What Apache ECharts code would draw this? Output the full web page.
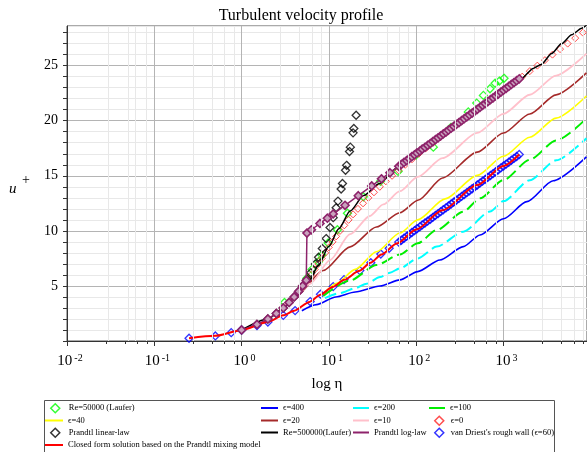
<!DOCTYPE html>
<html>
<head>
<meta charset="utf-8">
<script src="https://cdn.jsdelivr.net/npm/echarts@6/dist/echarts.min.js"></script>
<style>
  html, body { margin: 0; padding: 0; background: #fff; }
  #chart { width: 587px; height: 452px; }
</style>
</head>
<body>
<div id="chart"></div>
<script>
// ---- Data (η = wall distance, u = u+) ----

// Laufer, Re = 50000 (symbols)
const re50Eta = [3.1, 5.6, 6.4, 7.6, 8.3, 9.8, 12.5, 16.3, 24.8, 39, 62, 100, 157, 250, 395, 493, 588, 700, 800, 896, 1014];
const re50U   = [3.5, 5.7, 6.5, 7.2, 7.8, 8.9, 10.1, 11.6, 13.1, 14.5, 15.4, 16.9, 17.6, 19.4, 20.8, 21.6, 22.3, 22.9, 23.4, 23.6, 23.85];

// rough-wall profiles, one per roughness height ϵ
const eps400Eta = [4.9, 7.2, 12, 20, 38.5, 65, 104, 187, 346, 538, 1000, 1850, 3700, 8900];
const eps400U   = [2.75, 3.3, 4.0, 4.45, 5.0, 5.55, 6.3, 7.36, 8.57, 9.63, 11.1, 12.65, 14.55, 16.72];
const eps200Eta = [9, 13.4, 20, 27, 38.5, 50, 65, 104, 172, 346, 700, 1000, 2000, 4000, 8900];
const eps200U   = [3.9, 4.35, 4.8, 5.2, 5.8, 6.2, 6.6, 7.5, 8.57, 9.93, 11.75, 12.7, 14.6, 16.4, 18.4];
const eps100Eta = [8.6, 17.5, 35, 65, 104, 172, 346, 538, 1000, 2000, 4000, 8900];
const eps100U   = [4.1, 5.5, 6.9, 7.85, 8.87, 10.08, 11.74, 12.96, 14.62, 16.46, 18.2, 20.2];
const eps40Eta  = [9.5, 12.3, 20, 35, 65, 104, 214, 500, 1000, 2000, 4000, 8900];
const eps40U    = [4.6, 5.25, 6.5, 8.1, 9.8, 11.0, 12.9, 15.04, 16.77, 18.5, 20.24, 22.24];
const eps20Eta  = [2.5, 4.3, 8.6, 17.5, 35, 65, 106, 200, 500, 1000, 2000, 4000, 8900];
const eps20U    = [2.45, 4.2, 6.4, 8.55, 10.35, 11.65, 12.8, 14.8, 17.15, 18.88, 20.61, 22.35, 24.34];
const eps10Eta  = [2.5, 3.9, 6.1, 10.3, 17.5, 29.5, 42, 65, 104, 200, 500, 1000, 2000, 4000, 8900];
const eps10U    = [2.5, 3.85, 5.2, 7.35, 9.7, 11.35, 12.4, 13.6, 14.9, 16.6, 18.9, 20.63, 22.36, 24.1, 26.1];

// smooth wall, ϵ = 0 (symbols)
const wallEta = [1.00, 1.50, 2.00, 2.51, 3.01, 3.52, 4.04, 4.57, 5.12, 5.68, 6.27, 6.89, 7.56, 8.29, 9.08, 9.97,
  11.0, 12.1, 13.4, 15.0, 16.8, 18.9, 21.5, 24.6, 28.3, 32.8, 38.3, 44.9, 52.9, 62.8, 74.8, 89.4, 107, 129, 156,
  188, 228, 277, 336, 409, 498, 606, 739, 901, 1099, 1342, 1637, 1999, 2440, 2980, 3639, 4444, 5428, 6629, 8097];
const wallU = [1, 1.5, 2, 2.5, 3, 3.5, 4, 4.5, 5, 5.5, 6, 6.5, 7, 7.5, 8, 8.5, 9, 9.5, 10, 10.5, 11, 11.5, 12, 12.5,
  13, 13.5, 14, 14.5, 15, 15.5, 16, 16.5, 17, 17.5, 18, 18.5, 19, 19.5, 20, 20.5, 21, 21.5, 22, 22.5, 23, 23.5, 24,
  24.5, 25, 25.5, 26, 26.5, 27, 27.5, 28];

// Prandtl linear law (symbols)
const linEta = [1, 1.5, 2, 2.5, 3, 3.5, 4, 4.5, 5, 5.6, 6.2, 7.0, 7.6, 8.4, 9.3, 10.3, 11.2, 12.1, 12.7, 13.8, 14.3, 15.5, 15.95, 17.2, 17.6, 18.9, 19.3, 20.5];
const linU   = [1, 1.5, 2, 2.5, 3, 3.5, 4, 4.5, 5, 5.6, 6.2, 7.0, 7.6, 8.4, 9.3, 10.3, 11.2, 12.1, 12.7, 13.8, 14.3, 15.5, 15.95, 17.2, 17.6, 18.9, 19.3, 20.5];

// Laufer, Re = 500000 (line)
const re500Eta = [1, 2, 3, 4, 5, 6, 7.5, 10, 13, 17.5, 25, 38, 60, 100, 200, 500, 1000, 1614, 2190, 2700, 3560, 4640, 6030, 7870, 9500];
const re500U   = [1, 2, 2.95, 3.85, 4.75, 5.5, 6.8, 8.6, 10.2, 11.8, 13.2, 14.3, 15.7, 17.0, 18.7, 21.0, 22.75, 23.85, 24.75, 25.1, 26.1, 27.0, 27.8, 28.4, 28.9];

// fine η grid shared by the log-law and rough-wall symbol runs
const etaFine = [63.1, 67.6, 72.4, 77.6, 83.2, 89.1, 95.5, 102, 110, 117, 126, 135, 145, 155, 166, 178, 191, 204, 219, 234,
  251, 269, 288, 309, 331, 355, 380, 407, 437, 468, 501, 537, 575, 617, 661, 708, 759, 813, 871, 933, 1000, 1072, 1148,
  1230, 1318, 1413, 1514];

// Prandtl log law (line with symbols)
const logLowEta = [1, 1.5, 2, 2.5, 3, 3.5, 4, 4.5, 5, 5.5, 5.6, 6.3, 7.9, 9.6, 11.2, 15.3, 21.7, 30.9, 40, 50];
const logLowU   = [1, 1.5, 2, 2.5, 3, 3.5, 4, 4.5, 5, 5.5, 9.8, 10.1, 10.67, 11.15, 11.54, 12.32, 13.19, 14.08, 14.72, 15.28];
const logFineU  = [15.86, 16.03, 16.21, 16.38, 16.55, 16.73, 16.90, 17.07, 17.24, 17.42, 17.59, 17.76, 17.93, 18.11,
  18.28, 18.45, 18.63, 18.80, 18.97, 19.14, 19.32, 19.49, 19.66, 19.83, 20.01, 20.18, 20.35, 20.52, 20.70, 20.87, 21.04,
  21.22, 21.39, 21.56, 21.73, 21.91, 22.08, 22.25, 22.42, 22.60, 22.77, 22.94, 23.11, 23.29, 23.46, 23.63, 23.81];

// van Driest rough wall, ϵ = 60 (symbols)
const vdLowEta = [0.25, 0.5, 0.76, 1.0, 1.5, 2.0, 3.0, 4.1, 6.1, 8.0, 11.2, 14.9, 22.6, 30.2, 39.3, 49];
const vdLowU   = [0.25, 0.46, 0.76, 1.0, 1.4, 1.72, 2.33, 2.76, 3.58, 4.25, 4.94, 5.57, 6.39, 7.11, 7.9, 8.42];
const vdFineU  = [8.98, 9.15, 9.33, 9.50, 9.67, 9.85, 10.02, 10.19, 10.36, 10.54, 10.71, 10.88, 11.05, 11.23, 11.40,
  11.57, 11.75, 11.92, 12.09, 12.26, 12.44, 12.61, 12.78, 12.95, 13.13, 13.30, 13.47, 13.64, 13.82, 13.99, 14.16, 14.34,
  14.51, 14.68, 14.85, 15.03, 15.20, 15.37, 15.54, 15.72, 15.89, 16.06, 16.23, 16.41, 16.58, 16.75, 16.93];

// closed-form mixing-length solution (line)
const closedEta = [0.25, 0.5, 1, 2, 3, 4, 6, 8, 11, 15, 22, 30, 40, 60, 100, 200, 500, 1000, 1514];
const closedU   = [0.25, 0.47, 0.98, 1.72, 2.33, 2.75, 3.55, 4.2, 4.9, 5.55, 6.35, 7.1, 7.85, 8.85, 10.13, 11.87, 14.16, 15.89, 16.93];

// axis ranges and the in-between ticks of each decade
const etaRange = [0.01, 9040];
const uRange = [0, 28.6];
const etaMinorTicks = [0.028, 0.046, 0.064, 0.082, 0.28, 0.46, 0.64, 0.82, 2.8, 4.6, 6.4, 8.2,
  28, 46, 64, 82, 280, 460, 640, 820, 2800, 4600, 6400, 8200];

// ---- Chart ----
const SERIF = '"Liberation Serif", "Times New Roman", Times, serif';
const pts = (xs, ys) => xs.map((x, i) => [x, ys[i]]);

function curve(name, xs, ys, color, width, dash) {
  return {
    name, type: 'line', data: pts(xs, ys), symbol: 'none', showSymbol: false,
    smooth: 0.25, smoothMonotone: 'x', clip: true, silent: true,
    itemStyle: { color }, lineStyle: { color, width, type: dash || 'solid' },
    emphasis: { disabled: true }
  };
}
function marks(name, xs, ys, color, size, bw) {
  return {
    name, type: 'scatter', data: pts(xs, ys), symbol: 'diamond', symbolSize: size, clip: true, silent: true,
    itemStyle: { color: 'rgba(0,0,0,0)', borderColor: color, borderWidth: bw },
    emphasis: { disabled: true }
  };
}

const series = [
  // light grid lines inside each decade
  {
    name: 'decade-grid', type: 'line', data: [], z: 1, silent: true,
    markLine: {
      silent: true, animation: false, symbol: ['none', 'none'], label: { show: false },
      lineStyle: { color: '#e8e8e8', width: 1, type: 'solid' },
      emphasis: { disabled: true },
      data: etaMinorTicks.map(v => ({ xAxis: v }))
    }
  },
  marks('Re=50000 (Laufer)', re50Eta, re50U, '#00ff00', 8, 1.3),
  curve('ϵ=400', eps400Eta, eps400U, '#0000ff', 1.6),
  curve('ϵ=200', eps200Eta, eps200U, '#00ffff', 2, [12, 5]),
  curve('ϵ=100', eps100Eta, eps100U, '#00ee00', 2, [12, 5]),
  curve('ϵ=40', eps40Eta, eps40U, '#ffff00', 1.6),
  curve('ϵ=20', eps20Eta, eps20U, '#a52a2a', 1.6),
  curve('ϵ=10', eps10Eta, eps10U, '#ffc0cb', 1.8),
  marks('ϵ=0', wallEta, wallU, '#ff2020', 7, 1),
  marks('Prandtl linear-law', linEta, linU, '#000000', 8, 1.3),
  curve('Re=500000(Laufer)', re500Eta, re500U, '#000000', 1.5),
  {
    name: 'Prandtl log-law', type: 'line', clip: true, silent: true, smooth: false,
    data: pts(logLowEta.concat(etaFine), logLowU.concat(logFineU)),
    symbol: 'diamond', symbolSize: 8, showSymbol: true, showAllSymbol: true,
    lineStyle: { color: '#8e236b', width: 1.5 },
    itemStyle: { color: '#c9a2bd', borderColor: '#8e236b', borderWidth: 1.6 },
    emphasis: { disabled: true }
  },
  marks("van Driest's rough wall (ϵ=60)", vdLowEta.concat(etaFine), vdLowU.concat(vdFineU), '#0000ff', 8, 1.3),
  curve('Closed form solution based on the Prandtl mixing model', closedEta, closedU, '#ff0000', 2)
];

// legend entries: name, kind (d = diamond, l = line), icon left, row centre, colour, line width in px
const legendRows = [
  ['Re=50000 (Laufer)', 'd', 50, 408, '#00ff00'],
  ['ϵ=400', 'l', 261, 408, '#0000ff', 17],
  ['ϵ=200', 'l', 353, 408, '#00ffff', 16],
  ['ϵ=100', 'l', 429, 408, '#00ee00', 16],
  ['ϵ=40', 'l', 45, 420.5, '#ffff00', 18],
  ['ϵ=20', 'l', 261, 420.5, '#a52a2a', 17],
  ['ϵ=10', 'l', 353, 420.5, '#ffc0cb', 16],
  ['ϵ=0', 'd', 434, 420.5, '#ff2020'],
  ['Prandtl linear-law', 'd', 50, 432.5, '#000000'],
  ['Re=500000(Laufer)', 'l', 261, 432.5, '#000000', 17],
  ['Prandtl log-law', 'l', 353, 432.5, '#8e236b', 16],
  ["van Driest's rough wall (ϵ=60)", 'd', 434, 432.5, '#0000ff'],
  ['Closed form solution based on the Prandtl mixing model', 'l', 45, 445, '#ff0000', 18]
];
const legends = legendRows.map(([name, kind, x, yc, color, w]) => {
  const d = kind === 'd';
  return {
    show: true, selectedMode: false, padding: 0, left: x, top: yc - 5,
    itemWidth: d ? 9 : w, itemHeight: d ? 9 : 2,
    textStyle: { fontFamily: SERIF, fontSize: 8.5, color: '#000', lineHeight: 10, padding: d ? [0, 0, 0, (x === 50 ? 4 : 2)] : 0 },
    data: [{
      name, icon: d ? 'diamond' : 'rect',
      itemStyle: d ? { color: 'rgba(0,0,0,0)', borderColor: color, borderWidth: 1.5 } : { color, borderWidth: 0 }
    }]
  };
});

function etaLabel(v) {
  const lg = Math.log10(v);
  const e = Math.round(lg);
  if (Math.abs(lg - e) > 1e-6) return '';
  return '{b|10}{e|' + e + '}';
}

const option = {
  animation: false,
  backgroundColor: '#fff',
  grid: { left: 67, right: 0, top: 26, bottom: 111, show: true, borderColor: '#555', borderWidth: 1 },
  xAxis: [
    {
      type: 'log', logBase: 10, min: etaRange[0], max: etaRange[1], splitNumber: 6,
      axisLine: { onZero: false, lineStyle: { color: '#333', width: 1 } },
      axisTick: { show: true, length: 5, lineStyle: { color: '#333' } },
      splitLine: { show: true, lineStyle: { color: '#b4b4b4', width: 1 } },
      axisLabel: {
        margin: 12, padding: [0, 0, 0, 6], showMaxLabel: false, formatter: etaLabel,
        rich: {
          b: { fontFamily: SERIF, fontSize: 15, lineHeight: 16, verticalAlign: 'bottom', color: '#000' },
          e: { fontFamily: SERIF, fontSize: 10, lineHeight: 16, verticalAlign: 'top', color: '#000', padding: [0, 0, 0, 2] }
        }
      }
    },
    {
      // short ticks inside each decade
      type: 'log', logBase: 10, min: etaRange[0], max: etaRange[1], position: 'bottom', gridIndex: 0,
      axisLine: { show: false, onZero: false },
      axisLabel: { show: false },
      splitLine: { show: false },
      axisTick: { show: true, length: 3, lineStyle: { color: '#333' }, customValues: etaMinorTicks }
    }
  ],
  yAxis: {
    type: 'value', min: uRange[0], max: uRange[1], interval: 1,
    axisLine: { show: true, onZero: false, lineStyle: { color: '#333', width: 1 } },
    axisTick: { show: true, length: 4, lineStyle: { color: '#333' } },
    splitLine: { show: true, lineStyle: { color: ['#b4b4b4', '#e8e8e8', '#e8e8e8', '#e8e8e8', '#e8e8e8'], width: 1 } },
    axisLabel: {
      margin: 9, fontFamily: SERIF, fontSize: 14, color: '#000', showMaxLabel: false,
      formatter: v => (v > 0 && v % 5 === 0) ? String(v) : ''
    }
  },
  legend: legends,
  series,
  graphic: [
    { type: 'text', x: 301, y: 16, silent: true,
      style: { text: 'Turbulent velocity profile', font: '16px ' + SERIF, fill: '#000', align: 'center', verticalAlign: 'middle', textAlign: 'center', textVerticalAlign: 'middle' } },
    { type: 'text', x: 327, y: 384, silent: true,
      style: { text: 'log η', font: '15px ' + SERIF, fill: '#000', align: 'center', verticalAlign: 'middle', textAlign: 'center', textVerticalAlign: 'middle' } },
    { type: 'text', x: 9, y: 189, silent: true,
      style: { text: 'u', font: 'italic 15px ' + SERIF, fill: '#000', verticalAlign: 'middle', textVerticalAlign: 'middle' } },
    { type: 'text', x: 22, y: 180, silent: true,
      style: { text: '+', font: '14px ' + SERIF, fill: '#000', verticalAlign: 'middle', textVerticalAlign: 'middle' } },
    { type: 'rect', silent: true, shape: { x: 44.5, y: 400.5, width: 510, height: 60 },
      style: { fill: 'none', stroke: '#555', lineWidth: 1 } }
  ]
};

const chart = echarts.init(document.getElementById('chart'), null, { renderer: 'canvas' });
chart.setOption(option);
</script>
</body>
</html>
